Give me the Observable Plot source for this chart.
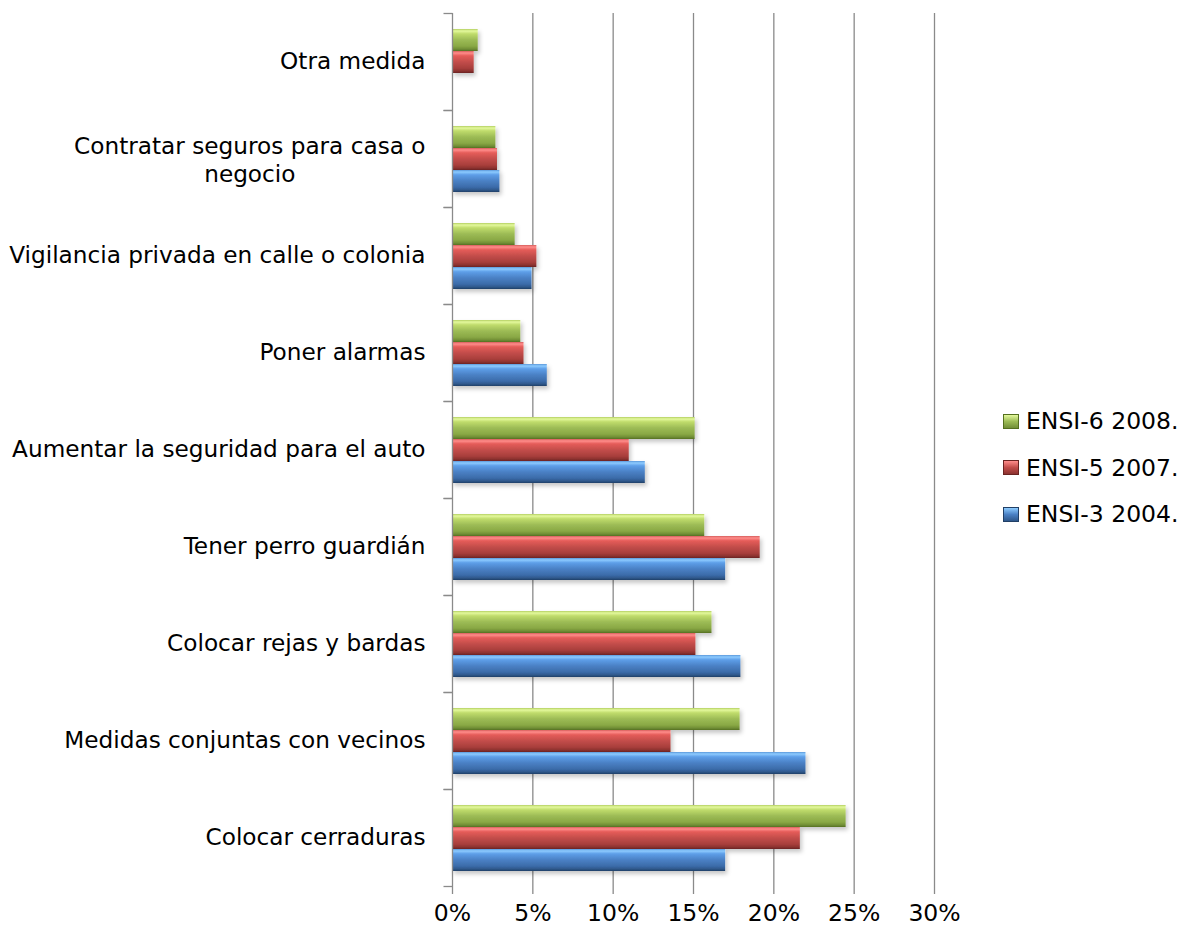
<!DOCTYPE html>
<html>
<head>
<meta charset="utf-8">
<script src="https://cdn.jsdelivr.net/npm/d3@7"></script>
<script src="https://cdn.jsdelivr.net/npm/@observablehq/plot@0.6"></script>
<style>
  html, body { margin: 0; padding: 0; background: #fff; }
  #wrap { position: relative; width: 1182px; height: 935px; overflow: hidden; }
  #legend { position: absolute; left: 1003px; top: 398px; font-family: "DejaVu Sans", sans-serif; font-size: 23.5px; color: #000; }
  #legend .row { display: flex; align-items: center; height: 46.5px; }
  #legend .sw { width: 16px; height: 15px; margin-right: 7px; box-sizing: border-box; }
</style>
</head>
<body>
<div id="wrap"></div>
<script>
// ---- data ----
const categories = [
  "Otra medida",
  "Contratar seguros para casa o\nnegocio",
  "Vigilancia privada en calle o colonia",
  "Poner alarmas",
  "Aumentar la seguridad para el auto",
  "Tener perro guardián",
  "Colocar rejas y bardas",
  "Medidas conjuntas con vecinos",
  "Colocar cerraduras"
];
const series = ["ENSI-6 2008.", "ENSI-5 2007.", "ENSI-3 2004."];
const values2008 = [1.6, 2.7, 3.9, 4.25, 15.1, 15.7, 16.15, 17.9, 24.5];
const values2007 = [1.35, 2.8, 5.25, 4.45, 11.0, 19.15, 15.15, 13.6, 21.65];
const values2004 = [null, 2.95, 4.95, 5.9, 12.0, 17.0, 17.95, 22.0, 17.0];
const xTicks = [0, 0.05, 0.10, 0.15, 0.20, 0.25, 0.30];

// ---- styles ----
const seriesValues = [values2008, values2007, values2004];
const gradIds = ["g2008", "g2007", "g2004"];
const gradStops = [
  ["#b3cf62", "#e4f99d", "#c0dc6c", "#9cbb55", "#89a845", "#718e36", "#55701f"],
  ["#d65e5b", "#ff8d8b", "#e55c59", "#c24d4a", "#a83e3b", "#8c3230", "#6a2422"],
  ["#5a98da", "#8dcbff", "#5d9ee8", "#4a80c4", "#3b6ba9", "#2e578a", "#213f66"]
];
const stopOffsets = [0, 0.09, 0.22, 0.5, 0.78, 0.91, 1];
const gray = "#8a8a8a";
const font = '"DejaVu Sans", sans-serif';
const fs = 23.2;

const rows = [];
categories.forEach((c, i) => series.forEach((s, j) => {
  const v = seriesValues[j][i];
  if (v != null) rows.push({category: c, series: s, value: v / 100});
}));

// measure multi-line label for centered alignment (Excel centers wrapped labels)
const ctx = document.createElement("canvas").getContext("2d");
ctx.font = `${fs}px ${font}`;
const multi = categories.filter(c => c.includes("\n"));
const multiW = d3.max(multi, c => d3.max(c.split("\n"), l => ctx.measureText(l).width)) || 0;

const tickSym = {draw(context, size) { const r = Math.sqrt(size / Math.PI); context.moveTo(-r, 0); context.lineTo(0, 0); }};

const chart = Plot.plot({
  width: 1182,
  height: 935,
  marginLeft: 452,
  marginRight: 248,
  marginTop: 12,
  marginBottom: 48,
  style: {fontFamily: font, fontSize: `${fs}px`, color: "#000", background: "#fff", overflow: "visible"},
  x: {domain: [0, 0.30], axis: null},
  fy: {domain: categories, padding: 0, axis: null},
  y: {domain: series, paddingInner: 0, paddingOuter: 0.7, axis: null},
  color: {domain: series, range: gradIds.map(id => `url(#${id})`)},
  marks: [
    Plot.ruleX(xTicks.filter(d => d > 0), {stroke: gray, strokeWidth: 1.3}),
    Plot.barX(rows, {fy: "category", y: "series", x: "value", fill: "series", inset: 0}),
    Plot.ruleX([0], {stroke: gray, strokeWidth: 1.3}),
    Plot.dot([0], {frameAnchor: "top-left", symbol: tickSym, r: 9, stroke: gray, strokeWidth: 1.3, fill: "none"}),
    Plot.dot([0], {frameAnchor: "bottom-left", symbol: tickSym, r: 9, stroke: gray, strokeWidth: 1.3, fill: "none"}),
    Plot.axisX({ticks: xTicks, tickFormat: d3.format(".0%"), tickSize: 8, tickPadding: 10, stroke: gray, strokeWidth: 1.3, fill: "#000", line: true, fontSize: 23.5, label: null}),
    Plot.text(categories.filter(c => !c.includes("\n")), {fy: d => d, text: d => d, frameAnchor: "left", textAnchor: "end", dx: -27, fill: "#000", fontSize: fs}),
    Plot.text(multi, {fy: d => d, text: d => d, frameAnchor: "left", textAnchor: "middle", dx: -(27 + multiW / 2), lineHeight: 1.2, fill: "#000", fontSize: fs})
  ]
});

// gradients + shadow
const defs = `<defs>
${gradIds.map((id, k) => `<linearGradient id="${id}" x1="0" y1="0" x2="0" y2="1">${gradStops[k].map((c, i) => `<stop offset="${stopOffsets[i]}" stop-color="${c}"/>`).join("")}</linearGradient>`).join("\n")}
<filter id="shadow" x="-5%" y="-30%" width="115%" height="180%"><feDropShadow dx="2" dy="3" stdDeviation="2" flood-color="#000" flood-opacity="0.22"/></filter>
</defs>`;
chart.insertAdjacentHTML("afterbegin", defs);
chart.querySelectorAll('g[aria-label="bar"]').forEach(g => g.setAttribute("filter", "url(#shadow)"));

const wrap = document.getElementById("wrap");
wrap.appendChild(chart);

// legend
const legend = document.createElement("div");
legend.id = "legend";
series.forEach((s, k) => {
  const row = document.createElement("div");
  row.className = "row";
  const sw = document.createElement("span");
  sw.className = "sw";
  const st = gradStops[k];
  sw.style.background = `linear-gradient(to bottom, ${st[1]} 0%, ${st[3]} 50%, ${st[5]} 100%)`;
  sw.style.border = `1px solid ${st[6]}`;
  const t = document.createElement("span");
  t.textContent = s;
  row.appendChild(sw);
  row.appendChild(t);
  legend.appendChild(row);
});
wrap.appendChild(legend);
</script>
</body>
</html>
